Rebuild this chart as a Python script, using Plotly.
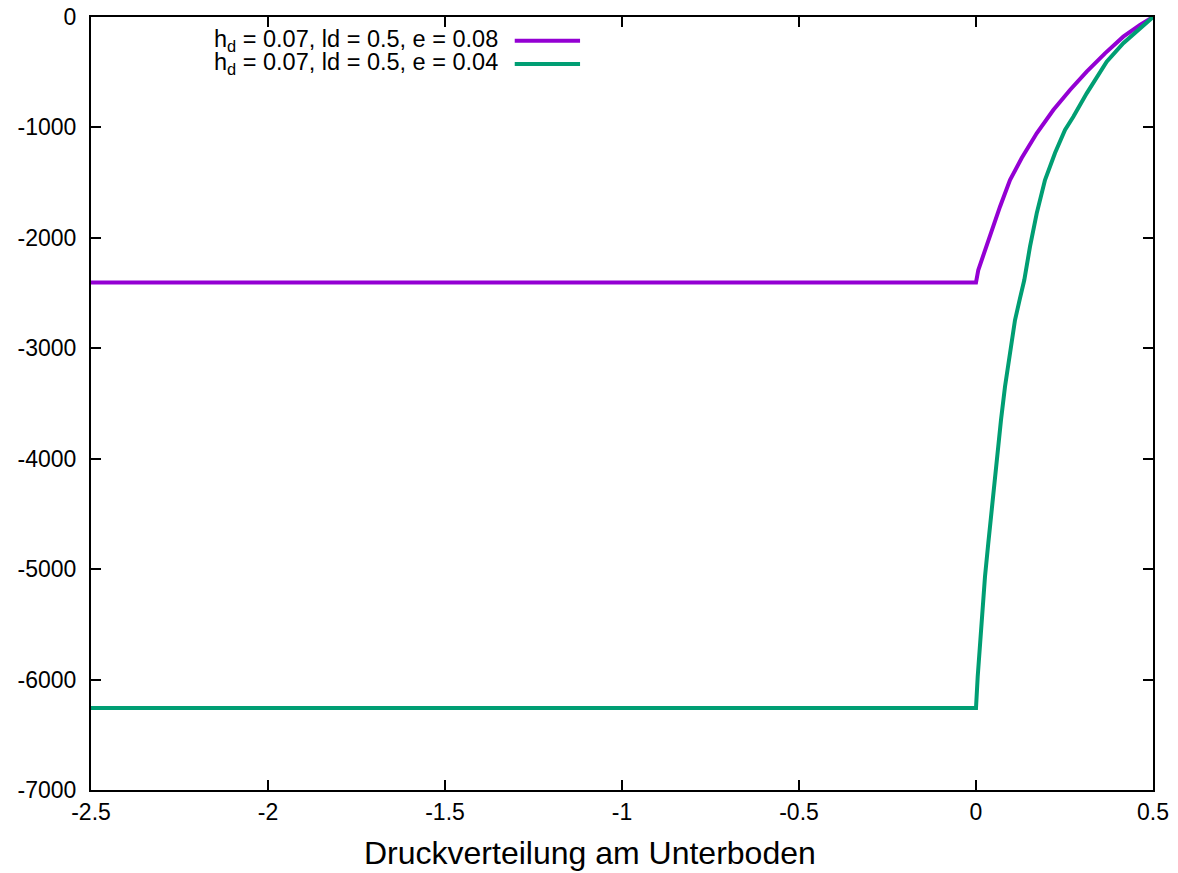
import plotly.graph_objects as go

# Data
x_e008 = [-2.5, 0.0, 0.0065, 0.0254, 0.0444, 0.0678, 0.0960, 0.1291, 0.1715, 0.2184, 0.2655,
          0.3127, 0.3644, 0.4161, 0.4633, 0.5]
y_e008 = [-2404, -2404, -2291, -2110, -1929, -1718, -1476, -1277, -1053, -842, -661,
          -495, -329, -178, -72, 0]

x_e004 = [-2.5, 0.0, 0.0048, 0.0113, 0.0178, 0.0254, 0.0347, 0.0444, 0.0489, 0.0602, 0.0706,
          0.0819, 0.0960, 0.1102, 0.1240, 0.1364, 0.1525, 0.1715, 0.1949, 0.2232, 0.2514, 0.2749,
          0.3127, 0.3503, 0.3692, 0.4161, 0.4633, 0.5]
y_e004 = [-6257, -6257, -5974, -5671, -5370, -5068, -4766, -4464, -4253, -3951, -3649,
          -3348, -3045, -2744, -2550, -2382, -2080, -1778, -1476, -1232, -1023, -903,
          -691, -510, -405, -238, -102, 0]

x_tickvals = [-2.5, -2, -1.5, -1, -0.5, 0, 0.5]
x_ticktext = ["-2.5", "-2", "-1.5", "-1", "-0.5", "0", "0.5"]
y_tickvals = [0, -1000, -2000, -3000, -4000, -5000, -6000, -7000]
y_ticktext = ["0", "-1000", "-2000", "-3000", "-4000", "-5000", "-6000", "-7000"]

labels = ["h<sub>d</sub> = 0.07, ld = 0.5, e = 0.08", "h<sub>d</sub> = 0.07, ld = 0.5, e = 0.04"]
colors = ["#9400D3", "#009E73"]
x_title = "Druckverteilung am Unterboden"

fig = go.Figure()
fig.add_trace(go.Scatter(x=x_e008, y=y_e008, mode="lines", name=labels[0],
                         line=dict(color=colors[0], width=4)))
fig.add_trace(go.Scatter(x=x_e004, y=y_e004, mode="lines", name=labels[1],
                         line=dict(color=colors[1], width=4)))

font = "Liberation Sans, Arial, Helvetica, sans-serif"

axis_common = dict(showline=True, linecolor="black", linewidth=2, mirror="allticks",
                   ticks="inside", ticklen=10, tickwidth=1.5, tickcolor="black",
                   showgrid=False, zeroline=False, automargin=False,
                   ticklabeloverflow="allow",
                   tickfont=dict(family=font, size=23, color="black"))

# body margin is removed (post_script), plot box sits at 91..1153 x 17..790
fig.update_layout(
    width=1178, height=873,
    margin=dict(l=91, r=25, t=17, b=83, autoexpand=False),
    paper_bgcolor="white", plot_bgcolor="white",
    showlegend=False,
    xaxis=dict(range=[-2.5, 0.5], tickvals=x_tickvals, ticktext=x_ticktext, **axis_common),
    yaxis=dict(range=[-7000, 0], tickvals=y_tickvals, ticktext=y_ticktext,
               ticklabelstandoff=8, **axis_common),
)

# x-axis label centred on the canvas (gnuplot style)
fig.add_annotation(xref="paper", yref="paper", x=0.4699, y=-0.0815, text=x_title,
                   showarrow=False, xanchor="center", yanchor="middle",
                   font=dict(family=font, size=32, color="black"))

# gnuplot-style legend: text right-aligned, line sample on the right
leg_y = [0.9693, 0.9392]
for lab, col, yy in zip(labels, colors, leg_y):
    fig.add_annotation(xref="paper", yref="paper", x=0.385, y=yy, text=lab,
                       showarrow=False, xanchor="right", yanchor="middle",
                       font=dict(family=font, size=23.5, color="black"))
    fig.add_shape(type="line", xref="paper", yref="paper", x0=0.399, x1=0.4605, y0=yy, y1=yy,
                  line=dict(color=col, width=4))

fig.write_html("out.html", config={"displayModeBar": False},
               post_script="document.body.style.margin='0';")
